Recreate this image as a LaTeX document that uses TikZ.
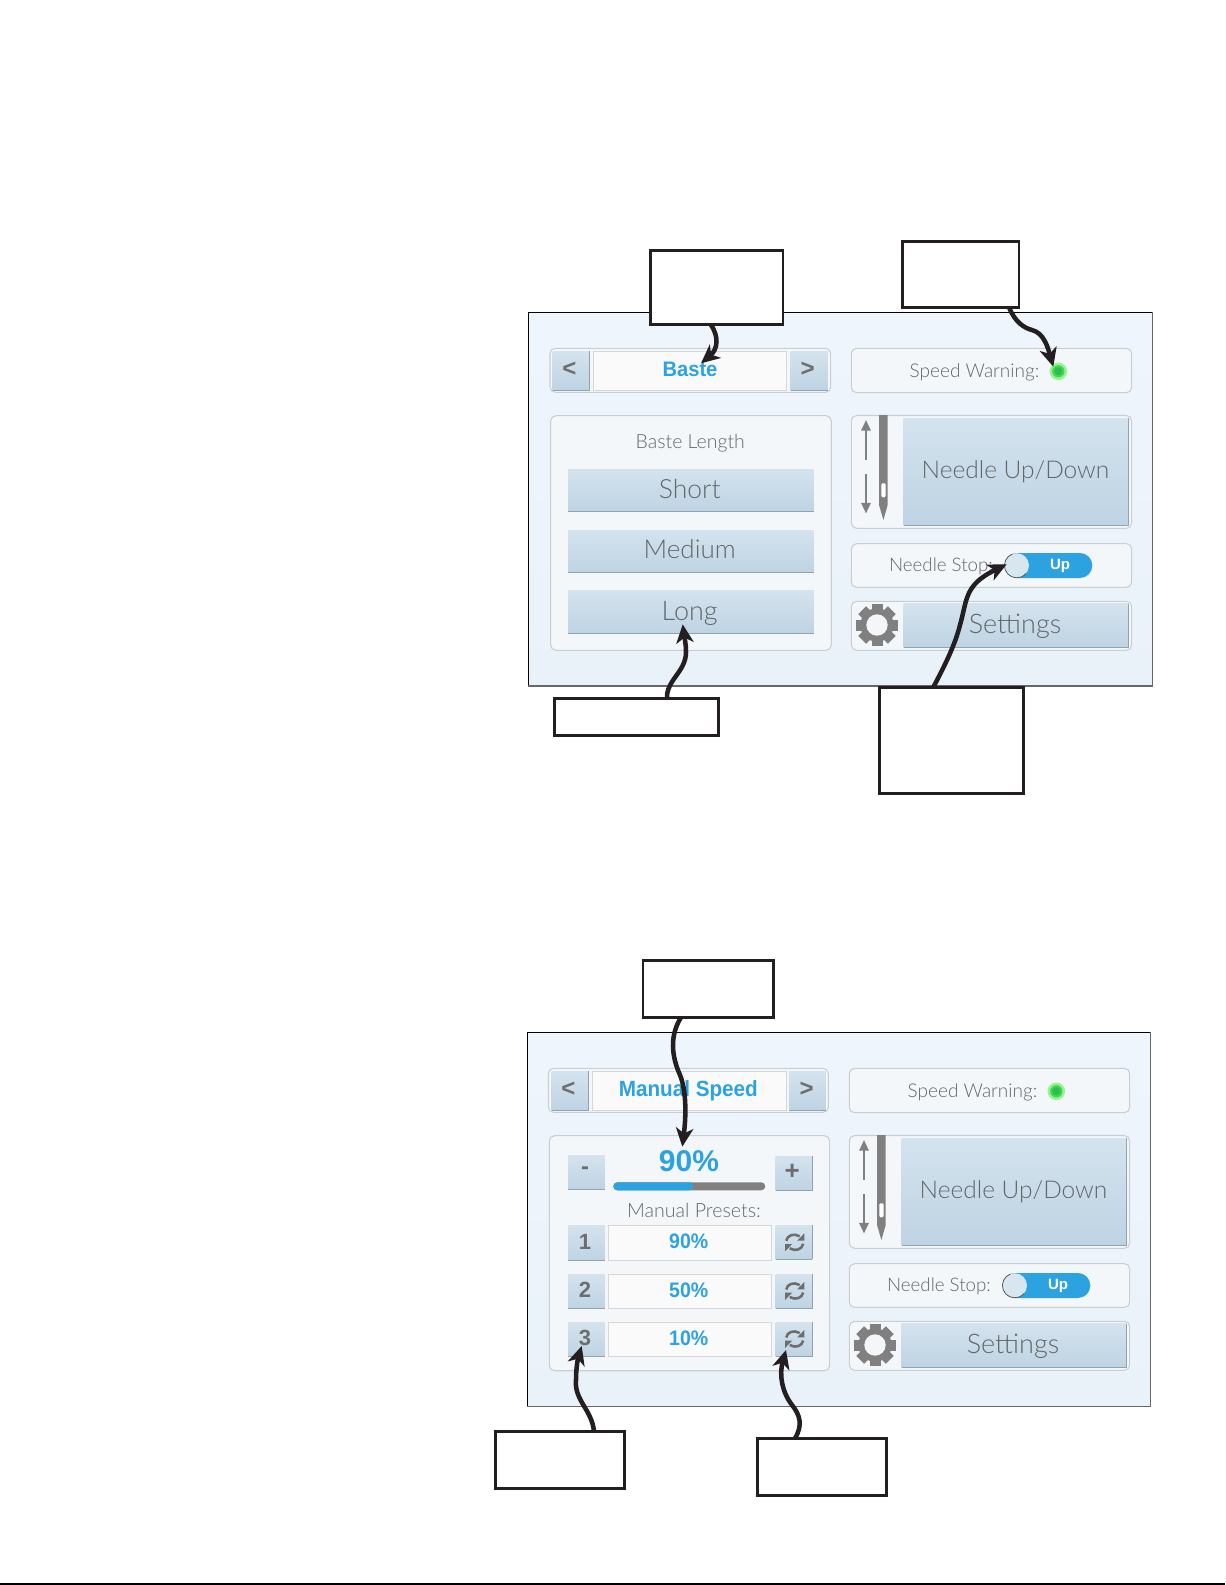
\documentclass[tikz,border=0pt]{standalone}
\usepackage{fontspec}
\usetikzlibrary{arrows.meta}
\setmainfont{Liberation Sans}
\newfontfamily\lightf{Lato Light}
\newcommand{\fs}[1]{\fontsize{\fpeval{#1*0.75}}{\fpeval{#1*0.9}}\selectfont}
\definecolor{inkc}{HTML}{231F20}
\definecolor{bluec}{HTML}{2CA3E0}
\definecolor{grayc}{HTML}{808080}
\definecolor{thinc}{HTML}{62676B}
\definecolor{edgec}{HTML}{C9CED2}
\definecolor{groupc}{HTML}{F4F7FA}
\definecolor{panelTop}{HTML}{EFF5FC}
\definecolor{panelBot}{HTML}{EAF2F9}
\definecolor{btnTop}{HTML}{D4E3EE}
\definecolor{btnBot}{HTML}{BED3E3}
\definecolor{btnEdge}{HTML}{8FA3B1}
\definecolor{fieldc}{HTML}{FAFAFA}
\definecolor{ledA}{HTML}{3CDC3C}
\definecolor{ledB}{HTML}{2FB85F}
\definecolor{ledGlow}{HTML}{66EE66}
\definecolor{knobc}{HTML}{D8E6EF}
\tikzset{
  x=0.75pt,y=-0.75pt,
  callout/.style={draw=inkc,line width=2.1pt,fill=white,inner sep=0pt,outer sep=0pt},
  pointer/.style={draw=inkc,line width=3.4pt,-{Stealth[length=14pt,width=13pt,inset=4pt]}},
  panelbg/.style={top color=panelTop,bottom color=panelBot},
  group/.style={draw=edgec,fill=groupc,line width=0.8pt,rounded corners=4pt},
  btn/.style={top color=btnTop,bottom color=btnBot},
  btnedge/.style={draw=btnEdge,line width=0.9pt},
  field/.style={draw=edgec!80,fill=fieldc,line width=0.7pt},
  thin text/.style={inner sep=0pt,text=thinc,font=\lightf},
  bold blue/.style={inner sep=0pt,text=bluec,font=\bfseries},
  bold gray/.style={inner sep=0pt,text=grayc!85!black,font=\bfseries},
  needlearrow/.style={draw=grayc,line width=1.5pt,-{Triangle[length=8pt,width=7pt]}},
}
\newcommand{\btnbox}[4]{%
  \path[btn] (#1,#2) rectangle (#3,#4);
  \draw[btnedge] (#1,#4) -- (#3,#4);
}
\newcommand{\btnboxr}[4]{%
  \btnbox{#1}{#2}{#3}{#4}
  \draw[btnedge] (#3,#2) -- (#3,#4);
}
\newcommand{\panel}[4]{%
  \path[panelbg] (#1,#2) rectangle (#3,#4);
  \draw[black,line width=1pt] (#1,#4) -- (#1,#2) -- (#3,#2);
  \draw[grayc!80!black,line width=1pt] (#3,#2) -- (#3,#4) -- (#1,#4);
}
\newcommand{\rightcolumn}[1]{%
  \draw[group] (851.3,348.3) rectangle (1131.7,392.7);
  \node[thin text] (#1speed) at (974.5,372) {\fs{19}Speed Warning:};
  \fill[ledGlow,opacity=.65] (1058.3,371.3) circle[radius=6.6pt];
  \fill[ledA] (1058.3,371.3) circle[radius=4.6pt];
  \fill[ledB] (1058.3,371.3) circle[radius=3pt];
  \draw[group] (851.3,415.5) rectangle (1131.7,528.3);
  \btnboxr{903.7}{418.3}{1128.7}{525.3}
  \node[thin text] (#1needle) at (1015.5,472) {\fs{24.5}Needle Up/Down};
  \draw[needlearrow] (866,460) -- (866,420);
  \draw[needlearrow] (866,474) -- (866,513.5);
  \fill[grayc] (879,415) -- (887.7,415) -- (887.7,505) -- (883.4,520) -- (879,505) -- cycle;
  \fill[white,rounded corners=1pt] (881.3,483.3) rectangle (885.7,497.3);
  \draw[group] (851.3,543.7) rectangle (1131.7,587.3);
  \node[thin text] (#1stop) at (941,566.3) {\fs{18.7}Needle Stop:};
  \fill[bluec,rounded corners=9.3pt] (1004.3,553) rectangle (1092.3,578);
  \fill[knobc] (1016.7,565.5) circle[radius=9.2pt];
  \draw[black!70,line width=.5pt] (1016.7,565.5) ++(110:9.2pt) arc[start angle=110,end angle=320,radius=9.2pt];
  \node[inner sep=0pt,text=white,font=\bfseries] (#1up) at (1060,566) {\fs{15}Up};
  \draw[group] (851.3,601.3) rectangle (1131.7,650.3);
  \btnboxr{903.7}{603.7}{1128.7}{647.7}
  \node[thin text] (#1settings) at (1015,626) {\fs{27}Settings};
  \fill[grayc] (877,625) circle[radius=12.5pt];
  \foreach \a in {0,45,...,315}{\fill[grayc,rotate around={\a:(877,625)}] (871.5,604) rectangle (882.5,612);}
  \fill[groupc] (877,625) circle[radius=8pt];
}
\newcommand{\refresh}[2]{%
  \begin{scope}[shift={(#1,#2)}]
  \draw[grayc!85!black,line width=1.9pt] (-8.5,-1.5) .. controls (-7.5,-7) and (-1,-9.5) .. (5,-6);
  \draw[grayc!85!black,line width=1.9pt] (8.5,1.5) .. controls (7.5,7) and (1,9.5) .. (-5,6);
  \fill[grayc!85!black] (9.7,-9) -- (9.7,-1.7) -- (2.5,-1.7) -- cycle;
  \fill[grayc!85!black] (-9.7,9) -- (-9.7,1.7) -- (-2.5,1.7) -- cycle;
  \end{scope}
}
\begin{document}
\begin{tikzpicture}
\useasboundingbox (0,0) rectangle (1225,1585);
\fill[white] (0,0) rectangle (1225,1585);
\draw[black,line width=1.5pt] (0,1584.2) -- (1225,1584.2);

%% ---------- panel 1
\panel{528.3}{312.3}{1152.7}{686}
\draw[group] (550,348.3) rectangle (830.7,392.3);
\btnboxr{552.7}{351}{589.7}{390.7}
\path[field] (593,351) rectangle (786.7,390.7);
\btnbox{790.7}{351}{827.7}{390.7}
\node[bold gray] (lt1) at (569.3,369.3) {\fs{24}<};
\node[bold gray] (gt1) at (807.7,369.3) {\fs{24}>};
\node[bold blue] (baste) at (690,369.5) {\fs{21}\scalebox{.96}[1]{Baste}};
\draw[group] (550.7,415.7) rectangle (831.3,650.3);
\node[thin text] (bastelen) at (690.3,443.5) {\fs{19.5}Baste Length};
\btnbox{568}{469}{813.7}{511.7}
\node[thin text] (short) at (689.7,489) {\fs{26.5}Short};
\btnbox{568}{530}{813.7}{572.7}
\node[thin text] (medium) at (689.7,549.5) {\fs{26}Medium};
\btnbox{568}{590.7}{813.7}{633.7}
\node[thin text] (long) at (689.7,613) {\fs{27}Long};
\rightcolumn{a}

%% ---------- panel 2
\panel{527.3}{1032.3}{1150.7}{1406.7}
\draw[group] (548.3,1068.3) rectangle (828.3,1112.3);
\btnboxr{551.7}{1071.3}{588.7}{1110.7}
\path[field] (592.7,1071.3) rectangle (786,1110.7);
\btnbox{789.3}{1071.3}{825.7}{1110.7}
\node[bold gray] (lt2) at (568.3,1089) {\fs{24}<};
\node[bold gray] (gt2) at (806.7,1089) {\fs{24}>};
\node[bold blue] (manual) at (688.3,1090.5) {\fs{22}\scalebox{.94}[1]{Manual Speed}};
\draw[group] (549.3,1135.7) rectangle (829.7,1370.7);
\btnbox{568}{1155.3}{604.7}{1189.7}
\btnboxr{775.7}{1156}{812.3}{1190.7}
\node[bold gray] (minus) at (585,1170.7) {\fs{24}-};
\node[bold gray] (plus) at (792.3,1171.7) {\fs{26}+};
\node[bold blue] (pct) at (689,1161) {\fs{30}90\%};
\fill[grayc,rounded corners=3pt] (613.3,1182.3) rectangle (765.3,1190.3);
\fill[bluec,rounded corners=3pt] (613.3,1182.3) rectangle (693.3,1190.3);
\node[thin text] (presets) at (694,1210.5) {\fs{19.6}Manual Presets:};
\btnbox{568}{1225}{604.7}{1260.7}
\path[field] (608.3,1225) rectangle (771,1260.7);
\btnboxr{775.7}{1225}{812.3}{1259.3}
\node[bold gray] (n1) at (585,1241.7) {\fs{22}1};
\node[bold blue] (v1) at (688.7,1241.7) {\fs{21}\scalebox{.93}[1]{90\%}};
\refresh{794.7}{1242.3}
\btnbox{568}{1274.3}{604.7}{1308.7}
\path[field] (608.3,1274.3) rectangle (771,1308.7);
\btnboxr{775.7}{1274.3}{812.3}{1308.7}
\node[bold gray] (n2) at (585,1290) {\fs{22}2};
\node[bold blue] (v2) at (688.7,1290) {\fs{21}\scalebox{.93}[1]{50\%}};
\refresh{794.7}{1291}
\btnbox{568}{1322.3}{604.7}{1356.7}
\path[field] (608.3,1322.3) rectangle (771,1356.7);
\btnboxr{775.7}{1322.3}{812.3}{1356.7}
\node[bold gray] (n3) at (585,1338.3) {\fs{22}3};
\node[bold blue] (v3) at (688.7,1338.3) {\fs{21}\scalebox{.93}[1]{10\%}};
\refresh{794.7}{1339}
\begin{scope}[shift={(-2,720)}]
\rightcolumn{b}
\end{scope}

%% ---------- callouts
\node[callout,minimum width=99.5pt,minimum height=55pt] (boxA) at (716.7,287.5) {};
\node[callout,minimum width=87.4pt,minimum height=49.5pt] (boxB) at (960.8,274.3) {};
\node[callout,minimum width=123.3pt,minimum height=27.3pt] (boxC) at (636.4,717) {};
\node[callout,minimum width=108pt,minimum height=79.5pt] (boxD) at (951.5,740.3) {};
\node[callout,minimum width=98pt,minimum height=42.5pt] (boxE) at (708.3,989) {};
\node[callout,minimum width=97pt,minimum height=43pt] (boxF) at (560,1460) {};
\node[callout,minimum width=97pt,minimum height=43pt] (boxG) at (822,1467) {};

%% ---------- pointers
\coordinate (tipA) at (701,363.3);
\coordinate (tipB) at (1053.3,366.7);
\coordinate (tipC) at (682.7,624.3);
\coordinate (tipD) at (1006.7,564.3);
\coordinate (tipE) at (682.3,1146.7);
\coordinate (tipF) at (581.7,1346);
\coordinate (tipG) at (786,1350);
\draw[pointer] (710.5,0 |- boxA.south) .. controls (719,336) and (718,349) .. (tipA);
\draw[pointer] (1009,0 |- boxB.south) .. controls (1015,322) and (1024,328) .. (1032,330) .. controls (1044,333) and (1048,348) .. (tipB);
\draw[pointer] (667,0 |- boxC.north) .. controls (666,680) and (686,672) .. (686,652) .. controls (686,643) and (684,635) .. (tipC);
\draw[pointer] (933.3,0 |- boxD.north) .. controls (945,665) and (955,645) .. (960,625) .. controls (965,608) and (965,595) .. (975,584) .. controls (982,576) and (995,570) .. (tipD);
\draw[pointer] (681,0 |- boxE.south) .. controls (670,1035) and (671,1055) .. (680,1075) .. controls (688,1095) and (685,1125) .. (tipE);
\draw[pointer] (594,0 |- boxF.north) .. controls (592,1410) and (574,1400) .. (576,1380) .. controls (576,1368) and (578,1358) .. (tipF);
\draw[pointer] (795,0 |- boxG.north) .. controls (803,1425) and (800,1415) .. (792,1405) .. controls (782,1392) and (779,1375) .. (tipG);
\end{tikzpicture}
\end{document}
